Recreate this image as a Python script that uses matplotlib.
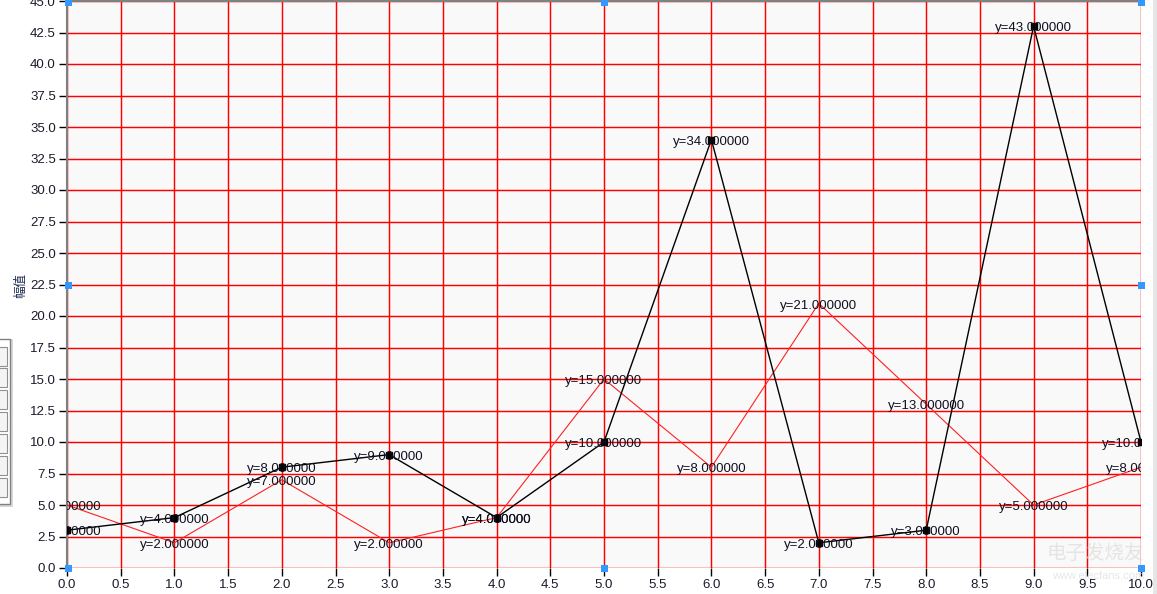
import matplotlib
matplotlib.use("Agg")
import matplotlib.pyplot as plt
from matplotlib.patches import Rectangle
from matplotlib import transforms

plt.rcParams['font.family'] = ['Liberation Sans', 'Noto Sans CJK SC', 'DejaVu Sans']

# Data
x_vals = [0, 1, 2, 3, 4, 5, 6, 7, 8, 9, 10]
black_vals = [3, 4, 8, 9, 4, 10, 34, 2, 3, 43, 10]
red_vals = [5, 2, 7, 2, 4, 15, 8, 21, 13, 5, 8]
y_label = "幅值"
x_ticks = [i * 0.5 for i in range(21)]
y_ticks = [i * 2.5 for i in range(19)]

W, H = 1157, 594
fig = plt.figure(figsize=(W / 100, H / 100), dpi=100)
fig.patch.set_facecolor('white')

L, R, T, B = 67, 1141, 1, 568
ax = fig.add_axes([L / W, (H - B) / H, (R - L) / W, (B - T) / H])
ax.set_facecolor('#f9f9f9')
ax.set_xlim(0, 10)
ax.set_ylim(0, 45)
ax.set_xticks(x_ticks)
ax.set_yticks(y_ticks)
ax.set_xticklabels([f"{t:.1f}" for t in x_ticks])
ax.set_yticklabels([f"{t:.1f}" for t in y_ticks])
ax.grid(True, color='#ff0000', linewidth=1.05)
ax.set_axisbelow(True)
ax.tick_params(axis='both', direction='out', length=6, width=1, color='black',
               labelsize=9.5, labelcolor='#1a1a2a', pad=2)
for s in ['bottom', 'right']:
    ax.spines[s].set_visible(False)
for s in ['left', 'top']:
    ax.spines[s].set_color('#808080')
    ax.spines[s].set_linewidth(1.5)

ax.plot(x_vals, red_vals, color='#ff2020', linewidth=0.8, zorder=3, clip_on=True)
ax.plot(x_vals, black_vals, color='black', linewidth=1.0, marker='s', markersize=4.5,
        zorder=4, clip_on=True)

txt_tr = transforms.offset_copy(ax.transData, fig=fig, x=0, y=-2.2, units='dots')
for xv, yv in zip(x_vals, red_vals):
    ax.text(xv, yv, f"y={yv:.6f}", ha='center', va='center', fontsize=9.5,
            color='#101020', clip_on=True, zorder=5, transform=txt_tr)
for xv, yv in zip(x_vals, black_vals):
    ax.text(xv, yv, f"y={yv:.6f}", ha='center', va='center', fontsize=9.5,
            color='#101020', clip_on=True, zorder=5, transform=txt_tr)

fig.text(21 / W, 1 - 285 / H, y_label, rotation=90, ha='center', va='center',
         fontsize=9, color='#1a2a50')

# selection handles
handles = [(67, 2), (603, 2), (1140, 2), (67, 285), (1140, 285),
           (67, 568), (603, 568), (1140, 568)]
for hx, hy in handles:
    fig.patches.append(Rectangle(((hx - 2) / W, 1 - (hy + 4) / H), 7 / W, 7 / H,
                                 transform=fig.transFigure, facecolor='#3399ff',
                                 edgecolor='none', zorder=10))

# partial widget on left edge
fig.patches.append(Rectangle((-5 / W, 1 - 507 / H), 18 / W, 168 / H,
                             transform=fig.transFigure, facecolor='#d8d8d8',
                             edgecolor='none', zorder=9))
fig.patches.append(Rectangle((-5 / W, 1 - 504 / H), 15 / W, 165 / H,
                             transform=fig.transFigure, facecolor='white',
                             edgecolor='#808080', linewidth=1, zorder=9))
for ry in [347, 368, 390, 412, 434, 456, 478]:
    fig.patches.append(Rectangle((-5 / W, 1 - (ry + 19) / H), 12 / W, 19 / H,
                                 transform=fig.transFigure, facecolor='#f4f4f4',
                                 edgecolor='#909090', linewidth=0.8, zorder=9))

# scrollbar strip at right
fig.patches.append(Rectangle((1153 / W, 0), 4 / W, 1,
                             transform=fig.transFigure, facecolor='#e6e6e6',
                             edgecolor='none', zorder=1))

# watermark
fig.text(1095 / W, 1 - 553 / H, "电子发烧友", fontsize=14, color='#dcdcdc',
         ha='center', va='center', family=['Noto Sans CJK SC', 'DejaVu Sans'],
         zorder=11, alpha=0.7)
fig.text(1098 / W, 1 - 576 / H, "www.elecfans.com", fontsize=8, color='#dcdcdc',
         ha='center', va='center', zorder=11, alpha=0.7)

fig.savefig("out.png", dpi=100)
